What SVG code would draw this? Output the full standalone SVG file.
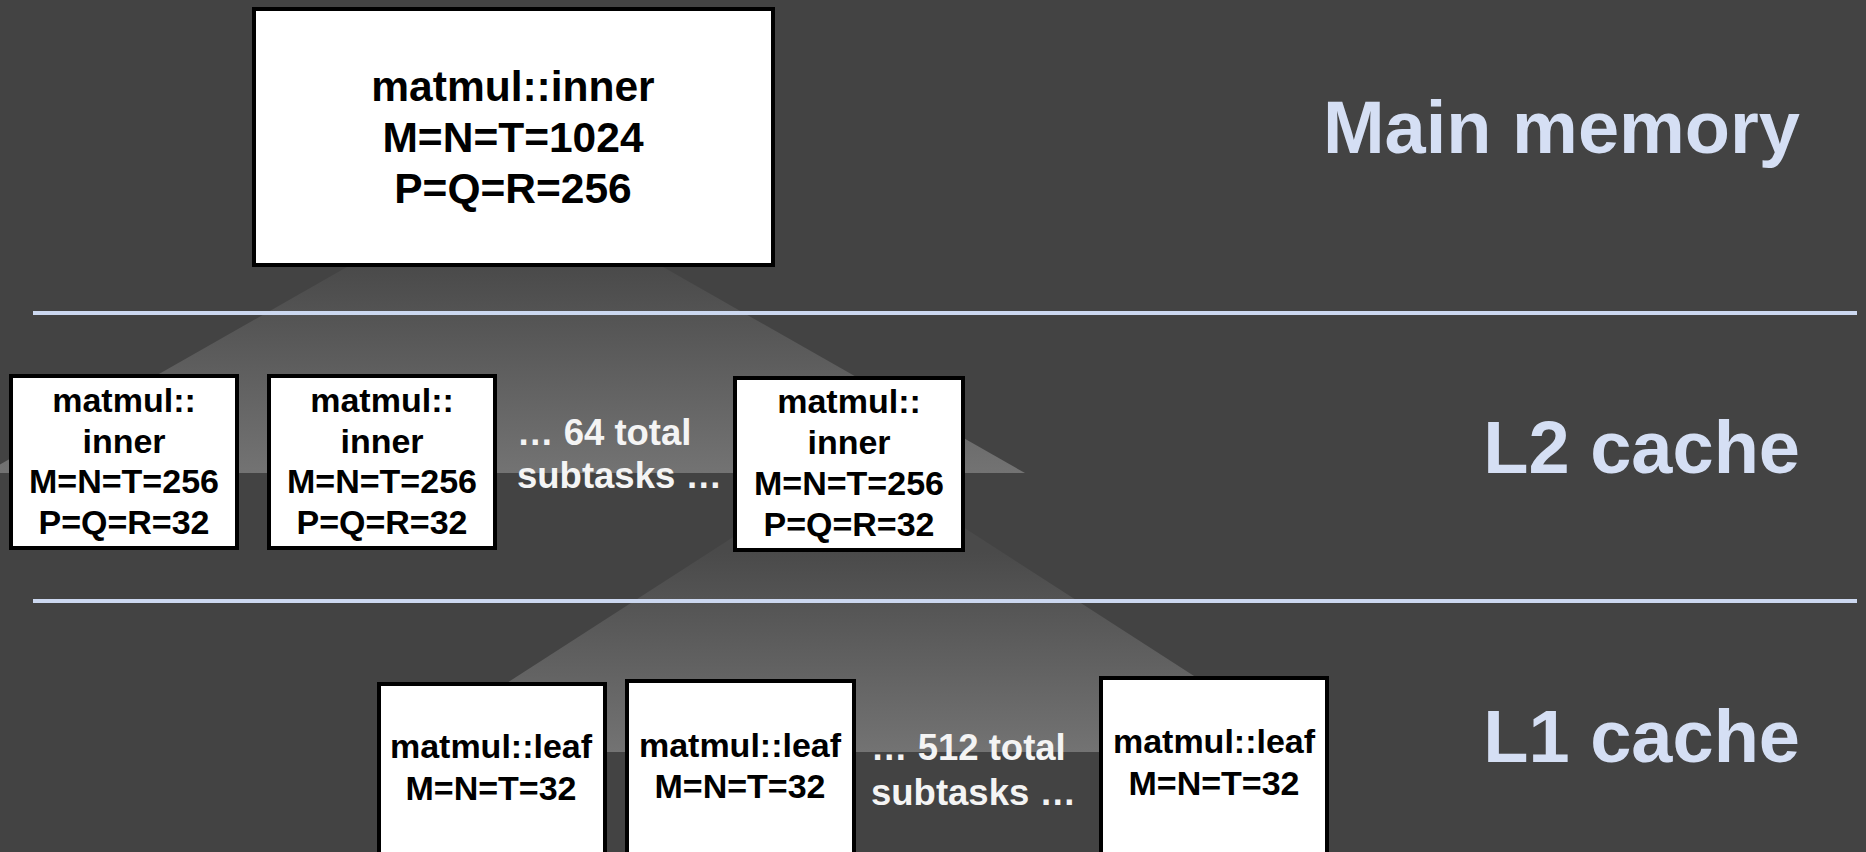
<svg xmlns="http://www.w3.org/2000/svg" width="1866" height="852" viewBox="0 0 1866 852">
  <defs>
    <linearGradient id="fanTop" gradientUnits="userSpaceOnUse" x1="0" y1="267" x2="0" y2="473">
      <stop offset="0" stop-color="#4a4a4a"/>
      <stop offset="1" stop-color="#737373"/>
    </linearGradient>
    <linearGradient id="fanMid" gradientUnits="userSpaceOnUse" x1="0" y1="552" x2="0" y2="752">
      <stop offset="0" stop-color="#4a4a4a"/>
      <stop offset="1" stop-color="#737373"/>
    </linearGradient>
    <style>
      .box { fill: #ffffff; stroke: #000000; stroke-width: 4; }
      .t { font-family: "Liberation Sans", Arial, Helvetica, sans-serif; font-weight: bold; text-anchor: middle; fill: #000000; }
      .big { font-size: 42.5px; }
      .mid { font-size: 34px; }
      .note { font-family: "Liberation Sans", Arial, Helvetica, sans-serif; font-weight: bold; font-size: 36.5px; fill: #f4f4f4; }
      .level { font-family: "Liberation Sans", Arial, Helvetica, sans-serif; font-weight: bold; font-size: 74px; fill: #d5dff4; text-anchor: end; }
      .sep { fill: #ccd8f0; }
    </style>
  </defs>

  <!-- background -->
  <rect x="0" y="0" width="1866" height="852" fill="#434343"/>

  <!-- decomposition fans from parent task to its subtasks -->
  <g id="connectors">
    <polygon points="505,177 1025,473 -15,473" fill="url(#fanTop)"/>
    <polygon points="856,458 1312,752 400,752" fill="url(#fanMid)"/>
  </g>

  <!-- memory level separators -->
  <g id="separators">
    <rect class="sep" x="33" y="311" width="1824" height="4"/>
    <rect class="sep" x="33" y="599" width="1824" height="4"/>
  </g>

  <!-- memory level labels -->
  <g id="levels">
    <text class="level" x="1800" y="153">Main memory</text>
    <text class="level" x="1800" y="473">L2 cache</text>
    <text class="level" x="1800" y="762">L1 cache</text>
  </g>

  <!-- top-level task -->
  <g id="root">
    <rect class="box" x="254" y="9" width="519" height="256"/>
    <text class="t big" x="513" y="101">matmul::inner</text>
    <text class="t big" x="513" y="152">M=N=T=1024</text>
    <text class="t big" x="513" y="203">P=Q=R=256</text>
  </g>

  <!-- L2-sized subtasks -->
  <g id="inner1">
    <rect class="box" x="11" y="376" width="226" height="172"/>
    <text class="t mid" x="124" y="412">matmul::</text>
    <text class="t mid" x="124" y="453">inner</text>
    <text class="t mid" x="124" y="493">M=N=T=256</text>
    <text class="t mid" x="124" y="534">P=Q=R=32</text>
  </g>
  <g id="inner2">
    <rect class="box" x="269" y="376" width="226" height="172"/>
    <text class="t mid" x="382" y="412">matmul::</text>
    <text class="t mid" x="382" y="453">inner</text>
    <text class="t mid" x="382" y="493">M=N=T=256</text>
    <text class="t mid" x="382" y="534">P=Q=R=32</text>
  </g>
  <g id="innerNote">
    <text class="note" x="517" y="445">… 64 total</text>
    <text class="note" x="517" y="488">subtasks …</text>
  </g>
  <g id="inner64">
    <rect class="box" x="735" y="378" width="228" height="172"/>
    <text class="t mid" x="849" y="413">matmul::</text>
    <text class="t mid" x="849" y="454">inner</text>
    <text class="t mid" x="849" y="495">M=N=T=256</text>
    <text class="t mid" x="849" y="536">P=Q=R=32</text>
  </g>

  <!-- L1-sized leaf tasks -->
  <g id="leaf1">
    <rect class="box" x="379" y="684" width="226" height="200"/>
    <text class="t mid" x="491" y="758">matmul::leaf</text>
    <text class="t mid" x="491" y="800">M=N=T=32</text>
  </g>
  <g id="leaf2">
    <rect class="box" x="627" y="681" width="227" height="200"/>
    <text class="t mid" x="740" y="757">matmul::leaf</text>
    <text class="t mid" x="740" y="798">M=N=T=32</text>
  </g>
  <g id="leafNote">
    <text class="note" x="871" y="760">… 512 total</text>
    <text class="note" x="871" y="805">subtasks …</text>
  </g>
  <g id="leaf512">
    <rect class="box" x="1101" y="678" width="226" height="200"/>
    <text class="t mid" x="1214" y="753">matmul::leaf</text>
    <text class="t mid" x="1214" y="795">M=N=T=32</text>
  </g>
</svg>
